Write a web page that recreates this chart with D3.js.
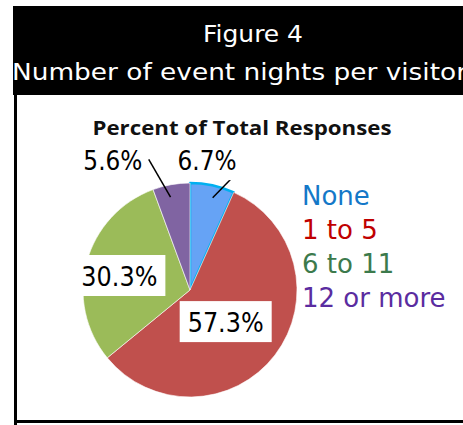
<!DOCTYPE html>
<html>
<head>
<meta charset="utf-8">
<script src="https://cdn.jsdelivr.net/npm/d3@7"></script>
<style>
  body { margin: 0; background: #fff; }
  svg { display: block; }
</style>
</head>
<body>
<script>
var categories = ["None", "1 to 5", "6 to 11", "12 or more"];
var values = [6.7, 57.3, 30.3, 5.6];
var labels = ["6.7%", "57.3%", "30.3%", "5.6%"];

var W = 463, H = 425;
var fills = ["#66a3f5", "#c0504d", "#9bbb59", "#8064a2"];
var legendColors = ["#1478c8", "#c00000", "#3c7a4c", "#5a2ca0"];

var svg = d3.select("body").append("svg")
  .attr("width", W)
  .attr("height", H);

// header block
svg.append("rect")
  .attr("x", 13).attr("y", 6)
  .attr("width", W - 13).attr("height", 89)
  .attr("fill", "#000");

svg.append("text")
  .attr("x", 253).attr("y", 42)
  .attr("text-anchor", "middle")
  .attr("fill", "#fff")
  .style("font-family", "DejaVu Sans")
  .style("font-size", "23px")
  .attr("textLength", 100)
  .attr("lengthAdjust", "spacingAndGlyphs")
  .text("Figure 4");

svg.append("text")
  .attr("x", 12).attr("y", 80)
  .attr("fill", "#fff")
  .style("font-family", "DejaVu Sans")
  .style("font-size", "23px")
  .attr("textLength", 455)
  .attr("lengthAdjust", "spacingAndGlyphs")
  .text("Number of event nights per visitor");

// frame lines
svg.append("rect")
  .attr("x", 14).attr("y", 95)
  .attr("width", 3).attr("height", H - 95)
  .attr("fill", "#000");
svg.append("rect")
  .attr("x", 14).attr("y", 420)
  .attr("width", W - 14).attr("height", 3)
  .attr("fill", "#000");

// chart title
svg.append("text")
  .attr("x", 242).attr("y", 135)
  .attr("text-anchor", "middle")
  .attr("fill", "#111")
  .style("font-family", "Open Sans")
  .style("font-weight", "bold")
  .style("font-size", "20px")
  .attr("textLength", 299)
  .attr("lengthAdjust", "spacingAndGlyphs")
  .text("Percent of Total Responses");

var cx = 190, cy = 290, r = 107;

var pie = d3.pie().sort(null).value(function(d) { return d; });
var arcs = pie(values);
var arc = d3.arc().innerRadius(0).outerRadius(r);

var g = svg.append("g")
  .attr("transform", "translate(" + cx + "," + cy + ")");

g.selectAll(".slice")
  .data(arcs)
  .enter().append("path")
  .attr("class", "slice")
  .attr("d", arc)
  .attr("fill", function(d, i) { return fills[i]; })
  .attr("stroke", function(d, i) { return i == 0 ? "#00b0f0" : "#fff"; })
  .attr("stroke-width", function(d, i) { return i == 0 ? 2.5 : 0.6; })
  .attr("stroke-linejoin", "round");

// label placement: radius from center and angle offset from slice middle
var labelPos = [
  { r: 131, da: -0.08, box: true, lead: [95, 0.03, 126, 0.17] },
  { r: 48, da: 0.08, box: true },
  { r: 72, da: -0.07, box: true },
  { r: 151, da: -0.36, box: false, lead: [95, -0.03, 137, -0.13] }
];

function mid(d) { return (d.startAngle + d.endAngle) / 2; }

// leader lines
arcs.forEach(function(d, i) {
  var p = labelPos[i];
  if (!p.lead) return;
  var a = d3.pointRadial(mid(d) + p.lead[1], p.lead[0]);
  var b = d3.pointRadial(mid(d) + p.lead[3], p.lead[2]);
  g.append("line")
    .attr("x1", a[0]).attr("y1", a[1])
    .attr("x2", b[0]).attr("y2", b[1])
    .attr("stroke", "#000")
    .attr("stroke-width", 1.5);
});

var lbl = g.selectAll(".lbl")
  .data(arcs)
  .enter().append("g")
  .attr("class", "lbl")
  .attr("transform", function(d, i) {
    var pt = d3.pointRadial(mid(d) + labelPos[i].da, labelPos[i].r);
    return "translate(" + pt[0] + "," + pt[1] + ")";
  });

lbl.filter(function(d, i) { return labelPos[i].box; })
  .append("rect")
  .attr("x", function(d, i) { return labels[i].length > 4 ? -46 : -36; })
  .attr("y", -21)
  .attr("width", function(d, i) { return labels[i].length > 4 ? 92 : 72; })
  .attr("height", 41)
  .attr("fill", "#fff");

lbl.append("text")
  .attr("text-anchor", "middle")
  .attr("dy", "0.37em")
  .attr("fill", "#000")
  .style("font-family", "DejaVu Sans")
  .style("font-size", "26px")
  .attr("textLength", function(d, i) { return labels[i].length > 4 ? 76 : 59; })
  .attr("lengthAdjust", "spacingAndGlyphs")
  .text(function(d, i) { return labels[i]; });

// legend
var legend = svg.selectAll(".legend")
  .data(categories)
  .enter().append("text")
  .attr("class", "legend")
  .attr("x", 302)
  .attr("y", function(d, i) { return 205 + i * 34; })
  .attr("fill", function(d, i) { return legendColors[i]; })
  .style("font-family", "DejaVu Sans")
  .style("font-size", "26px")
  .style("font-weight", 500)
  .text(function(d) { return d; });
</script>
</body>
</html>
